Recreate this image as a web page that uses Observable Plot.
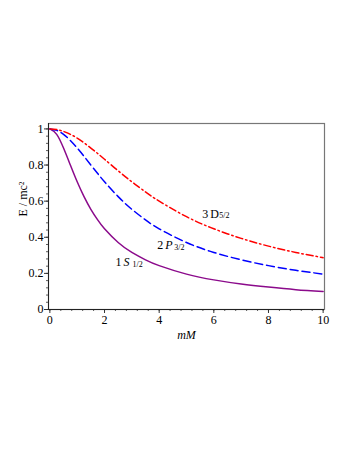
<!DOCTYPE html>
<html>
<head>
<meta charset="utf-8">
<script src="https://cdn.jsdelivr.net/npm/d3@7"></script>
<script src="https://cdn.jsdelivr.net/npm/@observablehq/plot@0.6"></script>
<style>
  html, body { margin: 0; padding: 0; background: #fff; }
  #chart svg { display: block; }
</style>
</head>
<body>
<div id="chart"></div>
<script>
// mM sample positions
const mM = [0, 0.25, 0.5, 0.75, 1, 1.25, 1.5, 1.75, 2, 2.5, 3, 3.5, 4, 5, 6, 7, 8, 9, 10];
// E / mc^2
const s1 = [1, 0.970, 0.894, 0.800, 0.707, 0.625, 0.555, 0.496, 0.447, 0.371, 0.316, 0.275, 0.243, 0.196, 0.164, 0.141, 0.124, 0.110, 0.100];
const p2 = [1, 0.992, 0.970, 0.936, 0.894, 0.848, 0.800, 0.753, 0.707, 0.625, 0.555, 0.496, 0.447, 0.371, 0.316, 0.275, 0.243, 0.217, 0.196];
const d3s = [1, 0.997, 0.986, 0.970, 0.949, 0.923, 0.894, 0.864, 0.832, 0.768, 0.707, 0.651, 0.600, 0.514, 0.447, 0.394, 0.351, 0.316, 0.287];

const xTicks = [0, 2, 4, 6, 8, 10];
const yTicks = [0, 0.2, 0.4, 0.6, 0.8, 1];

// curve labels: number, letter, subscript, anchor position (data units)
const labelNum = ["1", "2", "3"];
const labelLetter = ["S", "P", "D"];
const labelSub = ["1/2", "3/2", "5/2"];
const labelX = [2.40, 3.93, 5.58];
const labelY = [0.262, 0.355, 0.53];
const labelItalic = [true, true, false];

const series = [
  {name: "1S", vals: s1, color: "#8B0A8B", dash: null},
  {name: "2P", vals: p2, color: "#0000FF", dash: "8,4"},
  {name: "3D", vals: d3s, color: "#FF0000", dash: "7,3,1.5,3"}
];

const labels = labelNum.map((n, i) => ({num: n, letter: labelLetter[i], sub: labelSub[i], x: labelX[i], y: labelY[i], italic: labelItalic[i]}));

const font = "Liberation Serif, Times New Roman, serif";

const lineMarks = series.map(s => Plot.line(mM.map((x, i) => ({x, y: s.vals[i]})), {
  x: "x", y: "y", stroke: s.color, strokeWidth: 1.5, strokeDasharray: s.dash, curve: "natural"
}));

const chart = Plot.plot({
  width: 353,
  height: 457,
  marginLeft: 48,
  marginRight: 29,
  marginTop: 123,
  marginBottom: 148,
  style: {fontFamily: font, fontSize: "12px", color: "#000", background: "#fff"},
  x: {domain: [-0.05, 10.05], label: null},
  y: {domain: [0, 1.03], label: null},
  marks: [
    Plot.frame({stroke: "#777", strokeWidth: 1.2}),
    ...lineMarks,
    // minor ticks
    Plot.axisX(d3.range(0, 10.001, 0.4), {tickSize: 2, text: null, label: null, stroke: "#333", strokeWidth: 0.8}),
    Plot.axisY(d3.range(0, 1.001, 0.04), {tickSize: 2, text: null, label: null, stroke: "#333", strokeWidth: 0.8}),
    // major ticks + labels
    Plot.axisX(xTicks, {tickSize: 4, tickPadding: 2, tickFormat: d3.format("~g"), label: null, fontSize: 12, stroke: "#333"}),
    Plot.axisY(yTicks, {tickSize: 4, tickPadding: 1, tickFormat: d3.format("~g"), label: null, fontSize: 12, stroke: "#333"}),
    Plot.ruleX([-0.05], {stroke: "#222", strokeWidth: 1}),
    Plot.ruleY([0], {stroke: "#222", strokeWidth: 1}),
    // axis titles
    Plot.text(["mM"], {frameAnchor: "bottom", dy: 21, fontStyle: "italic", fontSize: 12, lineAnchor: "top"}),
    Plot.text(["E / mc²"], {frameAnchor: "left", dx: -25, rotate: -90, fontSize: 12}),
    // curve labels
    Plot.text(labels, {x: "x", y: "y", text: "num", textAnchor: "start", fontSize: 12}),
    Plot.text(labels.filter(d => d.italic), {x: "x", y: "y", text: "letter", textAnchor: "start", dx: 8, fontSize: 12, fontStyle: "italic"}),
    Plot.text(labels.filter(d => !d.italic), {x: "x", y: "y", text: "letter", textAnchor: "start", dx: 8, fontSize: 12}),
    Plot.text(labels, {x: "x", y: "y", text: "sub", textAnchor: "start", dx: 17, dy: 2, fontSize: 8})
  ]
});

document.getElementById("chart").appendChild(chart);
</script>
</body>
</html>
